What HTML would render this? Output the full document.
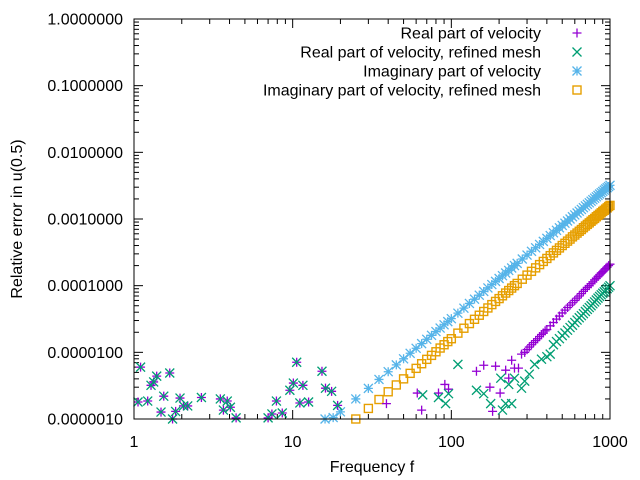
<!DOCTYPE html>
<html><head><meta charset="utf-8"><style>
body{margin:0;background:#fff;}
svg{display:block;font-family:"Liberation Sans",sans-serif;}
</style></head><body>
<svg id="chart" width="640" height="480"></svg>
<script>
const xTicks=[1,10,100,1000];
const xTickLabels=["1","10","100","1000"];
const yTicks=[1e-6,1e-5,1e-4,1e-3,1e-2,1e-1,1];
const yTickLabels=["0.0000010","0.0000100","0.0001000","0.0010000","0.0100000","0.1000000","1.0000000"];
const noiseF=[1.06,1.1,1.22,1.28,1.33,1.39,1.48,1.54,1.68,1.75,1.83,1.95,2.05,2.18,2.66,3.5,3.66,3.87,4.05,4.4,7.0,7.4,7.9,8.6,9.6,10.1,10.6,11.1,11.6,12.6,15.3,16.1,17.6,19.2];
const noiseV=[1.8e-6,6e-6,1.86e-6,3.2e-6,3.6e-6,4.4e-6,1.27e-6,2.2e-6,4.9e-6,1e-6,1.3e-6,2.06e-6,1.57e-6,1.57e-6,2.1e-6,2.0e-6,1.36e-6,1.86e-6,1.5e-6,1.04e-6,1.04e-6,1.19e-6,1.86e-6,1.23e-6,2.7e-6,3.46e-6,7.1e-6,1.74e-6,3.2e-6,1.8e-6,5.2e-6,2.9e-6,2.6e-6,1.6e-6];
const realF=[39,61,65,83,91,96,144,160,175,182,190,203,220,230,240,250,265,277,290,300,310,320,330,340,350,360,370,380,390,400,420,440,460,480,500,520,540,560,580,600,620,640,660,680,700,720,740,760,780,800,820,840,860,880,900,920,940,960,980,1000];
const realV=[1.7e-6,2.45e-6,1.36e-6,2.45e-6,3.3e-6,2.8e-6,5.2e-6,6.4e-6,3e-6,1.3e-6,6.2e-6,2.45e-6,5.4e-6,4.1e-6,7.6e-6,5.8e-6,5.8e-6,9.4e-6,1.0e-5,1.1e-5,1.2e-5,1.3e-5,1.4e-5,1.5e-5,1.6e-5,1.73e-5,1.85e-5,1.95e-5,2.1e-5,2.2e-5,2.5e-5,2.8e-5,3.15e-5,3.5e-5,3.9e-5,4.3e-5,4.7e-5,5.1e-5,5.55e-5,6.0e-5,6.5e-5,7.0e-5,7.6e-5,8.2e-5,8.8e-5,9.4e-5,1.0e-4,1.07e-4,1.14e-4,1.22e-4,1.29e-4,1.37e-4,1.45e-4,1.54e-4,1.62e-4,1.71e-4,1.8e-4,1.9e-4,2.0e-4,2.1e-4];
const refF=[66,83,92,96,110,144,160,177,205,210,220,230,240,250,277,290,310,335,370,400,420,440,460,480,500,520,540,560,580,600,620,640,660,680,700,720,740,760,780,800,820,840,860,880,900,920,940,960,980,1000];
const refV=[2.3e-6,2.1e-6,1.7e-6,2.4e-6,6.6e-6,2.7e-6,2.4e-6,1.7e-6,4.1e-6,1.36e-6,1.7e-6,3.3e-6,1.7e-6,4.1e-6,2.9e-6,3.7e-6,4.7e-6,6.6e-6,7.9e-6,8.6e-6,9.4e-6,1.3e-5,1.45e-5,1.6e-5,1.78e-5,1.95e-5,2.15e-5,2.35e-5,2.55e-5,2.8e-5,3.05e-5,3.3e-5,3.55e-5,3.8e-5,4.1e-5,4.4e-5,4.7e-5,5.0e-5,5.35e-5,5.7e-5,6.1e-5,6.5e-5,6.9e-5,7.3e-5,7.7e-5,8.1e-5,8.5e-5,9.0e-5,9.5e-5,1.0e-4];
const imagF=[16,18,20,25,30,35,40,45,50,55,60,65,70,75,80,85,90,95,100,110,120,130,140,150,160,170,180,190,200,210,220,230,240,250,260,280,300,320,340,360,380,400,420,440,460,480,500,520,540,560,580,600,620,640,660,680,700,720,740,760,780,800,820,840,860,880,900,920,940,960,980,1000];
const imagV=[1.0e-6,1.05e-6,1.28e-6,2.0e-6,2.88e-6,3.92e-6,5.12e-6,6.48e-6,8.0e-6,9.68e-6,1.15e-5,1.35e-5,1.57e-5,1.8e-5,2.05e-5,2.31e-5,2.59e-5,2.89e-5,3.2e-5,3.87e-5,4.6e-5,5.41e-5,6.27e-5,7.2e-5,8.19e-5,9.25e-5,1.04e-4,1.16e-4,1.28e-4,1.41e-4,1.55e-4,1.69e-4,1.84e-4,2.0e-4,2.16e-4,2.51e-4,2.88e-4,3.28e-4,3.7e-4,4.15e-4,4.62e-4,5.12e-4,5.64e-4,6.2e-4,6.77e-4,7.37e-4,8.0e-4,8.65e-4,9.33e-4,1.0e-3,1.08e-3,1.15e-3,1.23e-3,1.31e-3,1.39e-3,1.48e-3,1.57e-3,1.66e-3,1.75e-3,1.85e-3,1.95e-3,2.05e-3,2.15e-3,2.26e-3,2.37e-3,2.48e-3,2.59e-3,2.71e-3,2.83e-3,2.95e-3,3.07e-3,3.2e-3];
const imagRefF=[25,30,35,40,45,50,55,60,65,70,75,80,85,90,95,100,110,120,130,140,150,160,170,180,190,200,210,220,230,240,250,260,280,300,320,340,360,380,400,420,440,460,480,500,520,540,560,580,600,620,640,660,680,700,720,740,760,780,800,820,840,860,880,900,920,940,960,980,1000];
const imagRefV=[1.0e-6,1.44e-6,1.96e-6,2.56e-6,3.24e-6,4.0e-6,4.84e-6,5.75e-6,6.75e-6,7.85e-6,9.0e-6,1.02e-5,1.16e-5,1.3e-5,1.45e-5,1.6e-5,1.94e-5,2.3e-5,2.7e-5,3.13e-5,3.6e-5,4.1e-5,4.63e-5,5.2e-5,5.8e-5,6.4e-5,7.05e-5,7.75e-5,8.45e-5,9.2e-5,1.0e-4,1.08e-4,1.25e-4,1.44e-4,1.64e-4,1.85e-4,2.07e-4,2.31e-4,2.56e-4,2.82e-4,3.1e-4,3.38e-4,3.68e-4,4.0e-4,4.32e-4,4.66e-4,5.0e-4,5.4e-4,5.75e-4,6.15e-4,6.55e-4,6.95e-4,7.4e-4,7.85e-4,8.3e-4,8.75e-4,9.25e-4,9.75e-4,1.02e-3,1.08e-3,1.13e-3,1.18e-3,1.24e-3,1.3e-3,1.35e-3,1.41e-3,1.47e-3,1.54e-3,1.6e-3];

const L=134,R=610,T=19,B=419;
const xs=f=>L+(R-L)*Math.log10(f)/3;
const ys=v=>B-(B-T)*(Math.log10(v)+6)/6;
const svg=document.getElementById('chart');
const NS='http://www.w3.org/2000/svg';
function mk(tag,attrs,parent){const e=document.createElementNS(NS,tag);for(const k in attrs)e.setAttribute(k,attrs[k]);(parent||svg).appendChild(e);return e;}

const tg=mk('g',{stroke:'#000','stroke-width':1});


for(let d=0;d<3;d++)for(let m=1;m<10;m++){const x=xs(Math.pow(10,d)*m);const len=m===1?9:5;
mk('line',{x1:x,y1:B,x2:x,y2:B-len},tg);mk('line',{x1:x,y1:T,x2:x,y2:T+len},tg);}
for(let d=-6;d<0;d++)for(let m=1;m<10;m++){const y=ys(Math.pow(10,d)*m);const len=m===1?9:5;
mk('line',{x1:L,y1:y,x2:L+len,y2:y},tg);mk('line',{x1:R,y1:y,x2:R-len,y2:y},tg);}
xTicks.forEach((t,i)=>{const e=mk('text',{x:xs(t),y:447,'text-anchor':'middle','font-size':16});e.textContent=xTickLabels[i];

});
yTicks.forEach((t,i)=>{const e=mk('text',{x:123,y:ys(t)+5.5,'text-anchor':'end','font-size':16});e.textContent=yTickLabels[i];

});

function marker(type,x,y,color,g){
 const s=4.5;
 if(type==='plus'){mk('path',{d:`M${x-s} ${y}H${x+s}M${x} ${y-s}V${y+s}`,stroke:color,'stroke-width':1.3,fill:'none'},g);}
 else if(type==='cross'){mk('path',{d:`M${x-s} ${y-s}L${x+s} ${y+s}M${x-s} ${y+s}L${x+s} ${y-s}`,stroke:color,'stroke-width':1.3,fill:'none'},g);}
 else if(type==='star'){mk('path',{d:`M${x-s} ${y}H${x+s}M${x} ${y-s}V${y+s}M${x-s} ${y-s}L${x+s} ${y+s}M${x-s} ${y+s}L${x+s} ${y-s}`,stroke:color,'stroke-width':1.3,fill:'none'},g);}
 else {mk('rect',{x:x-4,y:y-4,width:8,height:8,stroke:color,'stroke-width':1.4,fill:'none'},g);}
}
function series(name,F,V,type,color){
 const g=mk('g',{});
 
 
 F.forEach((f,i)=>{const v=V[i];if(v<1e-6||v>1)return;marker(type,xs(f),ys(v),color,g);});
}
series('series-imaginary',imagF,imagV,'star','#56b4e9');
series('series-imaginary-refined',imagRefF,imagRefV,'square','#e69f00');
series('series-real-noise',noiseF,noiseV,'plus','#9400d3');
series('series-real-refined-noise',noiseF,noiseV,'cross','#009e73');
series('series-real',realF,realV,'plus','#9400d3');
series('series-real-refined',refF,refV,'cross','#009e73');

const frame=mk('rect',{x:L,y:T,width:R-L,height:B-T,fill:'none',stroke:'#000','stroke-width':1});



const leg=[['Real part of velocity','plus','#9400d3'],['Real part of velocity, refined mesh','cross','#009e73'],['Imaginary part of velocity','star','#56b4e9'],['Imaginary part of velocity, refined mesh','square','#e69f00']];
leg.forEach((l,i)=>{const y=33+i*19;const g=mk('g',{});
 
 
 const t=mk('text',{x:541,y:y+5.5,'text-anchor':'end','font-size':16,fill:'#000'},g);t.textContent=l[0];
 marker(l[1],577,y,l[2],g);});

const xl=mk('text',{x:372,y:472,'text-anchor':'middle','font-size':16});xl.textContent='Frequency f';


const yl=mk('text',{x:0,y:0,'text-anchor':'middle','font-size':16,transform:'translate(22,219) rotate(-90)'});yl.textContent='Relative error in u(0.5)';


</script>
</body></html>
